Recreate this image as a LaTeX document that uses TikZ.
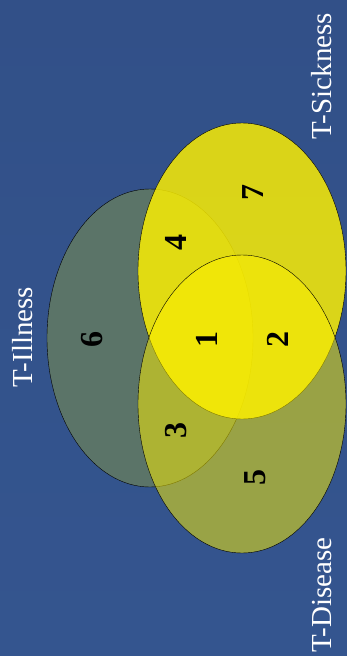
\documentclass[tikz,border=0pt]{standalone}
\usepackage{fontspec}
\setmainfont{Liberation Serif}
\definecolor{bgblue}{HTML}{325088}
\definecolor{bgblue2}{HTML}{34558F}
\definecolor{illgreen}{HTML}{5B7468}

\begin{document}
\begin{tikzpicture}[x=1pt,y=-1pt,
        setname/.style={text=white,rotate=90,font=\fontsize{29}{30}\selectfont},
        region/.style={rotate=90,font=\fontsize{32}{32}\selectfont\bfseries},
        illness/.style={draw=black,fill=illgreen},
        sickness/.style={draw=black,fill=yellow,fill opacity=.82},
        disease/.style={draw=black,fill=yellow,fill opacity=.5}]
            \shade [top color=bgblue,bottom color=bgblue2] (0,0) rectangle (347,656);
            \useasboundingbox (0,0) rectangle (347,656);
            \draw [illness] (150,338) ellipse [x radius=103pt,y radius=149pt];
            \draw [sickness] (242,271) ellipse [x radius=104pt,y radius=148pt];
            \draw [disease] (242,404) ellipse [x radius=104pt,y radius=149pt];
            \node [setname] (sick) at (322,76) {T-Sickness};
            \node [setname] (ill) at (23,337) {T-Illness};
            \node [setname] (dis) at (322,595) {T-Disease};
            \node [region] (r1) at (207,339) {1};
            \node [region] (r2) at (278,339) {2};
            \node [region] (r3) at (176,430) {3};
            \node [region] (r4) at (176,242) {4};
            \node [region] (r5) at (255,477) {5};
            \node [region] (r6) at (92,339) {6};
            \node [region] (r7) at (253,192) {7};
        \end{tikzpicture}
\end{document}
